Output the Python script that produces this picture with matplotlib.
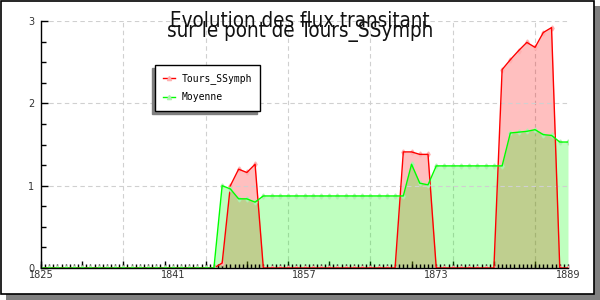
import numpy as np
import matplotlib
matplotlib.use("Agg")
import matplotlib.pyplot as plt
from matplotlib.patches import Rectangle
from matplotlib.lines import Line2D
from matplotlib.ticker import MultipleLocator, FixedLocator, NullFormatter

years = list(range(1825, 1890))
tours = [0, 0, 0, 0, 0, 0, 0, 0, 0, 0, 0, 0, 0, 0, 0, 0, 0, 0, 0, 0, 0, 0,
         0.06, 1.0, 1.2, 1.16, 1.26,
         0, 0, 0, 0, 0, 0, 0, 0, 0, 0, 0, 0, 0, 0, 0, 0, 0,
         1.41, 1.41, 1.38, 1.38,
         0, 0, 0, 0, 0, 0, 0, 0,
         2.41, 2.53, 2.64, 2.74, 2.68, 2.86, 2.92,
         0, 0]
moyenne = [0, 0, 0, 0, 0, 0, 0, 0, 0, 0, 0, 0, 0, 0, 0, 0, 0, 0, 0, 0, 0, 0,
           1.0, 0.96, 0.84, 0.84, 0.80,
           0.875, 0.875, 0.875, 0.875, 0.875, 0.875, 0.875, 0.875, 0.875,
           0.875, 0.875, 0.875, 0.875, 0.875, 0.875, 0.875, 0.875, 0.875,
           1.26, 1.03, 1.01,
           1.24, 1.24, 1.24, 1.24, 1.24, 1.24, 1.24, 1.24, 1.24,
           1.64, 1.65, 1.66, 1.68, 1.62, 1.61, 1.53, 1.53]
xlabels = [1825, 1841, 1857, 1873, 1889]
title1 = "Evolution des flux transitant"
title2 = "sur le pont de Tours_SSymph"

fig = plt.figure(figsize=(6, 3), dpi=100)
ax = fig.add_axes([41 / 600, 1 - 268 / 300, 527 / 600, 247 / 300])

series = [(tours, "#ff0000", "#ffb0b0", "Tours_SSymph"),
          (moyenne, "#00ff00", "#b0f0b0", "Moyenne")]
for vals, col, mcol, name in series:
    ax.fill_between(years, vals, color=col, alpha=0.25, lw=0)
    ax.plot(years, vals, ls="none", marker="d", ms=2.6, mfc=mcol, mec=mcol)
    ax.plot(years, vals, color=col, lw=1.0)

ax.set_xlim(1825, 1889)
ax.set_ylim(0, 3)
for s in ["top", "right"]:
    ax.spines[s].set_visible(False)
ax.spines["left"].set_linewidth(1)
ax.spines["bottom"].set_linewidth(1)

ax.xaxis.set_major_locator(FixedLocator(xlabels))
ax.xaxis.set_minor_locator(MultipleLocator(0.5))
ax.yaxis.set_major_locator(MultipleLocator(1))
ax.yaxis.set_minor_locator(MultipleLocator(0.25))
ax.tick_params(axis="both", which="both", direction="in", labelsize=7,
               labelcolor="#333333", width=1)
ax.tick_params(axis="x", which="major", length=3, pad=1.5)
ax.tick_params(axis="x", which="minor", length=3)
ax.tick_params(axis="y", which="major", length=5, pad=5)
ax.tick_params(axis="y", which="minor", length=3.5)

# longer ticks every 5 years
sec = ax.secondary_xaxis("bottom")
sec.xaxis.set_major_locator(MultipleLocator(5))
sec.xaxis.set_major_formatter(NullFormatter())
sec.tick_params(direction="in", length=5, width=1)
sec.spines["bottom"].set_visible(False)

# grid: horizontal at integer values, vertical every 10 years from 1835
ax.grid(axis="y", which="major", color="#d0d0d0", ls=(0, (4, 3)), lw=0.8)
for yr in range(1835, 1889, 10):
    ax.axvline(yr, color="#d0d0d0", ls=(0, (4, 3)), lw=0.8, zorder=0)

handles = [Line2D([], [], color=c, lw=1.0, marker="^", ms=3, mfc=m, mec=m)
           for _, c, m, _ in series]
leg = ax.legend(handles, [s[3] for s in series], loc="upper left",
                bbox_to_anchor=(0.216, 0.822),
                borderaxespad=0, fancybox=False, framealpha=1,
                edgecolor="black", prop={"family": "DejaVu Sans Mono", "size": 7},
                handlelength=1.2, handletextpad=0.7, labelspacing=0.85,
                borderpad=0.85,
                shadow={"ox": -2.2, "oy": -2.2, "color": "#808080", "alpha": 1})
leg.get_frame().set_linewidth(1)

fig.text(0.5, 1 - 27 / 300, title1, ha="center", va="baseline", fontsize=14.8,
         family="DejaVu Sans", fontstretch="condensed", color="#111111")
fig.text(0.5, 1 - 37 / 300, title2, ha="center", va="baseline", fontsize=14.8,
         family="DejaVu Sans", fontstretch="condensed", color="#111111")

# frame with drop shadow
fig.patches.append(Rectangle((6 / 600, 0), 1, 6 / 300, transform=fig.transFigure,
                             facecolor="#808080", edgecolor="none"))
fig.patches.append(Rectangle((594 / 600, 0), 6 / 600, 294 / 300,
                             transform=fig.transFigure,
                             facecolor="#808080", edgecolor="none"))
fig.patches.append(Rectangle((0.5 / 600, 6.5 / 300), 593.5 / 600, 293 / 300,
                             transform=fig.transFigure,
                             facecolor="none", edgecolor="black", lw=1.2))

fig.savefig("out.png", dpi=100)
